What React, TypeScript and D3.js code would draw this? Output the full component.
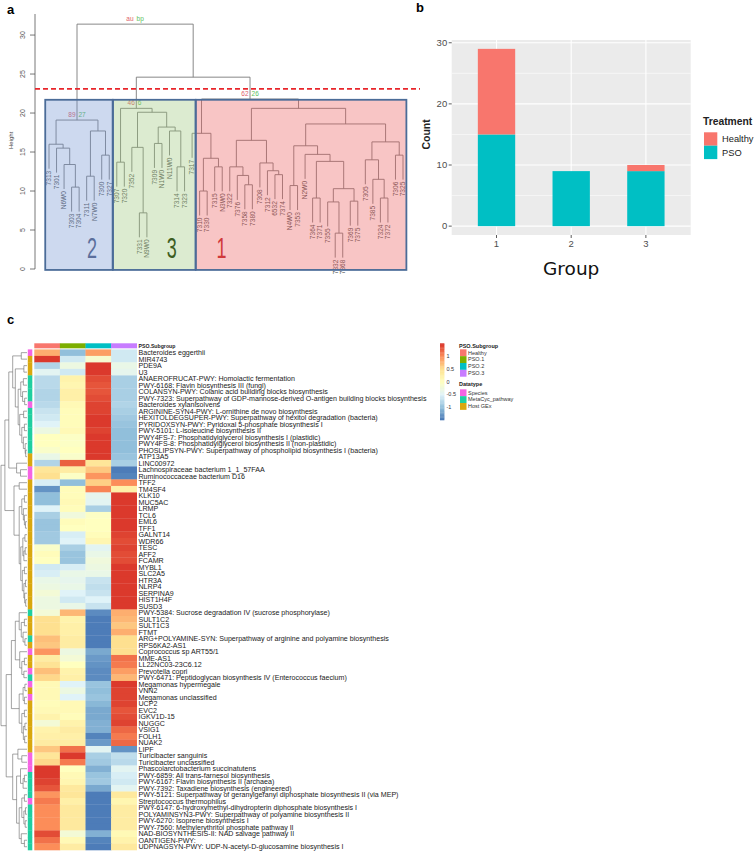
import React from "react";
import * as d3 from "d3";

type Tree<L> = L | [number, Tree<L>, Tree<L>];

// ---------------- panel a: sample clustering (heights) ----------------
const cluster2Tree: Tree<string> = [19.1,
  [16.0, "7313", [15.5, "7301", [13.4, "N6W0", [10.5, "7303", "7304"]]]],
  [17.7, [11.9, "7311", "N7W0"], [14.6, "7300", "7327"]],
];
const cluster3Tree: Tree<string> = [20.6,
  [13.7, "7307", "7320"],
  [20.1,
    [15.6, "7352", [7.2, "7331", "N9W0"]],
    [18.2, [16.1, "7309", "N1W0"], [17.7, "N11W0", [13.1, "7314", "7323"]]],
  ],
];
const cluster1Tree: Tree<string> = [21.8,
  [17.4, "7317", [14.2, [10.0, "7310", "7330"], [13.1, "7315", "N3W0"]]],
  [20.6,
    [16.5,
      [13.1, "7322", [12.0, "7376", [10.8, "7358", "7380"]]],
      [13.6, "7308", [12.6, "7312", [12.1, "6532", "7374"]]],
    ],
    [18.6,
      [15.8,
        [10.7, "N4W0", "7353"],
        [14.7, "N2W0", [13.8, [9.1, "7364", "7371"], [10.3, [8.6, "7355", [4.6, "7332", "7368"]], [8.7, "7369", "7375"]]]],
      ],
      [16.3,
        [14.0, "7305", [11.5, "7385", [9.1, "7324", "7372"]]],
        [14.6, "7306", "7325"],
      ],
    ],
  ],
];
const cluster31Tree: Tree<string> = [24.6, cluster3Tree, cluster1Tree];
const sampleTree: Tree<string> = [31.4, cluster2Tree, cluster31Tree];

const heightTicks = [0, 5, 10, 15, 20, 25, 30];
const cutHeight = 23.1;
const boxGroups = ["2", "3", "1"];
const boxLeafCounts = [9, 11, 28];
const boxLabelLeaf = [5.7, 16.3, 22.9];
const boxFill = ["rgba(112,146,209,0.35)", "rgba(155,198,121,0.35)", "rgba(235,89,89,0.35)"];
const boxText = ["#5b6f9c", "#3e5e22", "#d03a3a"];
const pvLabels: { node: Tree<string>; au: string; bp: string }[] = [
  { node: sampleTree, au: "au", bp: "bp" },
  { node: cluster2Tree, au: "89", bp: "27" },
  { node: cluster3Tree, au: "46", bp: "6" },
  { node: cluster1Tree, au: "62", bp: "26" },
];

// ---------------- panel b: group composition ----------------
const groups = ["1", "2", "3"];
const psoCounts = [15, 9, 9];
const healthyCounts = [14, 0, 1];
const countTicks = [0, 10, 20, 30];
const treatments = ["Healthy", "PSO"];
const treatmentColors = ["#F8766D", "#00BFC4"];

// ---------------- panel c: heatmap ----------------
const subgroups = ["Healthy", "PSO.1", "PSO.2", "PSO.3"];
const subgroupColors = ["#F8766D", "#7CAE00", "#00BFC4", "#C77CFF"];
const datatypes = ["Species", "MetaCyc_pathway", "Host GEx"];
const datatypeColors = ["#F564E3", "#1FCFA0", "#D9A80E"];
const datatypeCodes = "SGGGMMMMSMMMMMMMGGSS" + "GGGGGGGGGGGGGGGGGGGG" + "MGGGMGSGGSMSGSGGGGGG" + "GGSSSMMMMSMMMMMMM";

const rowLabels = [
  "Bacteroides eggerthii", "MIR4743", "PDE9A", "U3",
  "ANAEROFRUCAT-PWY: Homolactic fermentation",
  "PWY-6168: Flavin biosynthesis III (fungi)",
  "COLANSYN-PWY: Colanic acid building blocks biosynthesis",
  "PWY-7323: Superpathway of GDP-mannose-derived O-antigen building blocks biosynthesis",
  "Bacteroides xylanisolvens",
  "ARGININE-SYN4-PWY: L-ornithine de novo  biosynthesis",
  "HEXITOLDEGSUPER-PWY: Superpathway of hexitol degradation (bacteria)",
  "PYRIDOXSYN-PWY: Pyridoxal 5-phosphate biosynthesis I",
  "PWY-5101: L-isoleucine biosynthesis II",
  "PWY4FS-7: Phosphatidylglycerol biosynthesis I (plastidic)",
  "PWY4FS-8: Phosphatidylglycerol biosynthesis II (non-plastidic)",
  "PHOSLIPSYN-PWY: Superpathway of phospholipid biosynthesis I (bacteria)",
  "ATP13A5", "LINC00972",
  "Lachnospiraceae bacterium 1_1_57FAA",
  "Ruminococcaceae bacterium D16",
  "TFF2", "TM4SF4", "KLK10", "MUC5AC", "LRMP", "TCL6", "EML6", "TFF1", "GALNT14", "WDR66",
  "TESC", "AFF2", "FCAMR", "MYBL1", "SLC2A5", "HTR3A", "NLRP4", "SERPINA9", "HIST1H4F", "SUSD3",
  "PWY-5384: Sucrose degradation IV (sucrose phosphorylase)",
  "SULT1C2", "SULT1C3", "FTMT",
  "ARG+POLYAMINE-SYN: Superpathway of arginine and polyamine biosynthesis",
  "RPS6KA2-AS1", "Coprococcus sp ART55/1", "MME-AS1", "LL22NC03-23C6.12", "Prevotella copri",
  "PWY-6471: Peptidoglycan biosynthesis IV (Enterococcus faecium)",
  "Megamonas hypermegale", "VNN2", "Megamonas unclassified",
  "UCP2", "EVC2", "IGKV1D-15", "NUGGC", "VSIG1", "FOLH1", "NUAK2", "LIPF",
  "Turicibacter sanguinis", "Turicibacter unclassified",
  "Phascolarctobacterium succinatutens",
  "PWY-6859: All trans-farnesol biosynthesis",
  "PWY-6167: Flavin biosynthesis II (archaea)",
  "PWY-7392: Taxadiene biosynthesis (engineered)",
  "PWY-5121: Superpathway of geranylgeranyl diphosphate biosynthesis II (via MEP)",
  "Streptococcus thermophilus",
  "PWY-6147: 6-hydroxymethyl-dihydropterin diphosphate biosynthesis I",
  "POLYAMINSYN3-PWY: Superpathway of polyamine biosynthesis II",
  "PWY-6270: Isoprene biosynthesis I",
  "PWY-7560: Methylerythritol phosphate pathway II",
  "NAD-BIOSYNTHESIS-II: NAD salvage pathway II",
  "OANTIGEN-PWY:",
  "UDPNAGSYN-PWY: UDP-N-acetyl-D-glucosamine biosynthesis I",
];

const zHealthy = [
  0.8, 1.45, -0.8, -0.45, -0.75, -0.75, -0.8, -0.8, -0.75, -0.65, -0.6, -0.5, -0.3, 0.0, 0.0, -0.1, -0.35, -0.8, 0.4, 0.5,
  -0.55, -1.3, -1.0, -1.0, -0.5, -0.85, -0.95, -0.95, -0.9, -0.9, -0.1, 0.05, 0.0, -0.6, -0.55, -0.35, -0.3, -0.2, -0.3, -0.3,
  -0.2, 0.5, 0.5, 0.5, 0.7, 0.65, 0.95, 0.3, 0.45, 0.7, 0.55, 0.1, 0.1, 0.1, 0.05, 0.1, 0.2, -0.2, 0.2, 0.25,
  0.3, 0.65, 0.4, 0.55, 1.45, 1.45, 1.4, 1.3, 0.95, 1.1, 1.0, 1.0, 1.0, 1.0, 1.35, 1.15, 1.0,
];
const zPSO1 = [
  -1.0, -0.6, -0.3, -0.6, 0.2, 0.15, 0.25, 0.25, 0.1, 0.05, 0.05, 0.05, 0.1, -0.05, -0.05, 0.0, -0.1, 1.25, 0.3, -0.05,
  -1.0, 0.05, 0.05, 0.1, 0.05, -0.25, 0.05, 0.0, -0.55, -0.5, -0.85, -0.95, -0.95, -0.55, -0.35, -0.4, -0.35, -0.5, -0.6, -0.35,
  0.75, 0.2, 0.25, 0.25, 0.3, 0.3, -0.3, -0.2, 0.0, 0.2, 0.25, -0.5, -0.3, -0.5, 0.1, 0.1, 0.05, 0.2, 0.3, 0.25,
  0.3, 1.15, 1.45, 1.1, 0.0, 0.1, 0.15, 0.35, 0.4, 0.25, 0.35, 0.35, 0.35, 0.35, -0.2, 0.1, 0.3,
];
const zPSO2 = [
  0.9, -0.15, 1.45, 1.45, 1.35, 1.3, 1.3, 1.35, 1.4, 1.4, 1.45, 1.45, 1.4, 1.45, 1.45, 1.45, 1.45, 0.4, 0.65, 0.95,
  0.6, 1.05, -0.4, -0.45, -0.85, -0.05, 0.0, 0.0, 0.05, 0.15, -0.45, -0.35, -0.25, -0.3, -0.35, -0.65, -0.7, -0.65, -0.5, -0.65,
  -1.35, -1.45, -1.45, -1.45, -1.45, -1.45, -1.15, -1.25, -1.3, -1.35, -1.35, -0.95, -1.0, -0.95, -1.05, -1.15, -1.15, -1.1, -1.1, -1.4,
  -1.25, -0.45, -0.85, -0.9, -1.1, -0.95, -0.9, -1.15, -1.45, -1.45, -1.45, -1.45, -1.45, -1.45, -1.1, -1.4, -1.45,
];
const zPSO3 = [
  -0.6, -0.6, -0.35, -0.4, -0.85, -0.85, -0.85, -0.85, -0.8, -0.85, -0.9, -0.95, -1.0, -1.0, -1.0, -1.0, -0.95, -0.85, -1.45, -1.4,
  1.0, 0.25, 1.45, 1.45, 1.45, 1.45, 1.45, 1.45, 1.4, 1.35, 1.4, 1.35, 1.35, 1.45, 1.45, 1.45, 1.45, 1.45, 1.45, 1.45,
  0.8, 0.75, 0.65, 0.8, 0.5, 0.5, 0.5, 1.15, 1.1, 0.9, 0.75, 1.45, 1.4, 1.4, 1.4, 1.3, 1.35, 1.4, 1.2, 1.1,
  1.2, -1.3, -0.7, -0.75, -0.45, -0.55, -0.6, -0.45, 0.35, 0.15, 0.3, 0.3, 0.3, 0.3, 0.1, 0.2, 0.35,
];
const heatColumns = [zHealthy, zPSO1, zPSO2, zPSO3];
const heatPalette = ["#4575B4", "#91BFDB", "#E0F3F8", "#FFFFBF", "#FEE090", "#FC8D59", "#D73027"];
const heatLegendTicks = [1, 0.5, 0, -0.5, -1];

// row clustering (relative heights)
const rowTreeA: Tree<number> = [0.7,
  [0.55, [0.22, 0, 1], [0.45, [0.12, 2, 3], [0.34,
    [0.24, [0.14, 4, 5], [0.17, 6, [0.09, 7, 8]]],
    [0.28, [0.13, 9, 10], [0.2, [0.1, 11, 12], [0.14, 13, [0.07, 14, [0.05, 15, 16]]]]],
  ]]],
  [0.4, 17, [0.25, 18, 19]],
];
const rowTreeB: Tree<number> = [0.5,
  [0.3, 20, 21],
  [0.3,
    [0.2, [0.1, 22, 23], [0.14, 24, [0.1, 25, [0.06, 26, 27]]]],
    [0.24, [0.16, [0.08, 28, 29], [0.12, [0.07, 30, 31], 32]], [0.18, [0.1, 33, 34], [0.12, [0.06, 35, 36], [0.09, 37, [0.05, 38, 39]]]]],
  ],
];
const rowTreeC: Tree<number> = [0.6,
  [0.45, [0.3, 40, [0.22, [0.1, 41, 42], [0.15, 43, [0.08, 44, 45]]]], [0.28, 46, [0.2, [0.1, 47, 48], [0.12, 49, 50]]]],
  [0.3, [0.15, [0.08, 51, 52], [0.1, 53, 54]], [0.2, [0.1, 55, 56], [0.14, [0.08, 57, 58], [0.09, 59, 60]]]],
];
const rowTreeD: Tree<number> = [0.55,
  [0.35, 61, [0.2, 62, 63]],
  [0.4, [0.25, 64, [0.15, [0.1, 65, 66], 67]], [0.3, [0.2, [0.1, 68, 69], [0.12, [0.06, 70, 71], [0.07, 72, 73]]], [0.22, 74, [0.1, 75, 76]]]],
];
const rowTree: Tree<number> = [1.0, [0.85, rowTreeA, rowTreeB], [0.8, rowTreeC, rowTreeD]];

// ---------------- helpers ----------------
interface Placed { pos: number; h: number; leaf: boolean }
function layoutTree<L>(tree: Tree<L>) {
  const leaves: { label: L; pos: number; parentH: number }[] = [];
  const joins: { h: number; a: Placed; b: Placed }[] = [];
  const nodes = new Map<unknown, Placed>();
  let i = 0;
  const walk = (n: Tree<L>, parentH: number): Placed => {
    if (!Array.isArray(n)) {
      const pos = i++;
      leaves.push({ label: n as L, pos, parentH });
      return { pos, h: 0, leaf: true };
    }
    const [h, l, r] = n as [number, Tree<L>, Tree<L>];
    const a = walk(l, h);
    const b = walk(r, h);
    const node = { pos: (a.pos + b.pos) / 2, h, leaf: false };
    joins.push({ h, a, b });
    nodes.set(n, node);
    return node;
  };
  walk(tree, NaN);
  return { leaves, joins, nodes };
}

const FONT = "'Liberation Sans', Arial, Helvetica, sans-serif";

function PanelA() {
  const { leaves, joins, nodes } = layoutTree(sampleTree);
  const maxH = d3.max(joins, (j) => j.h)!;
  const hang = 0.1 * maxH;
  const x = d3.scaleLinear().domain([0, leaves.length - 1]).range([49, 403]);
  const y = d3.scaleLinear().domain([0, 32.7]).range([269, 14]);
  const bottom = (c: Placed, h: number) => (c.leaf ? h - hang : c.h);
  const starts = d3.cumsum([0, ...boxLeafCounts]);
  const grey = "#7a7a7a";
  return (
    <g>
      <text x={7} y={14} fontSize={13} fontWeight="bold">a</text>
      {/* axis */}
      <line x1={35} x2={35} y1={y(0)} y2={y(32.7)} stroke="#555" strokeWidth={0.8} />
      {heightTicks.map((t) => (
        <g key={t}>
          <line x1={30} x2={35} y1={y(t)} y2={y(t)} stroke="#555" strokeWidth={0.8} />
          <text transform={`translate(25,${y(t)}) rotate(-90)`} textAnchor="middle" fontSize={7} fill="#555">{t}</text>
        </g>
      ))}
      <text transform={`translate(13,${y(16.5)}) rotate(-90)`} textAnchor="middle" fontSize={6} fill="#444">Height</text>

      {/* tree */}
      {joins.map((j, i) => (
        <path key={i} fill="none" stroke={grey} strokeWidth={0.9}
          d={`M${x(j.a.pos)},${y(bottom(j.a, j.h))}V${y(j.h)}H${x(j.b.pos)}V${y(bottom(j.b, j.h))}`} />
      ))}
      {leaves.map((l) => (
        <text key={l.label} transform={`translate(${x(l.pos)},${y(l.parentH - hang) + 2}) rotate(-90)`}
          textAnchor="end" dy="0.35em" fontSize={6.6} fill="#555">{l.label}</text>
      ))}
      {pvLabels.map((p) => {
        const n = nodes.get(p.node)!;
        return (
          <g key={p.au + p.bp} fontSize={6.5}>
            <text x={x(n.pos) - 1.5} y={y(n.h) - 3} textAnchor="end" fill="#e0606a">{p.au}</text>
            <text x={x(n.pos) + 1.5} y={y(n.h) - 3} fill="#5cbf5c">{p.bp}</text>
          </g>
        );
      })}

      {/* cluster boxes */}
      {boxGroups.map((g, k) => {
        const x0 = x(starts[k] - 0.5);
        const x1 = x(starts[k + 1] - 1 + 0.45);
        return (
          <g key={g}>
            <rect x={x0} y={y(21.7)} width={x1 - x0} height={y(-0.12) - y(21.7)}
              fill={boxFill[k]} stroke="#4b6c98" strokeWidth={1.8} />
            <text transform={`translate(${x(boxLabelLeaf[k])},${y(1.4)}) scale(0.6,1)`} textAnchor="middle"
              fontSize={30} fill={boxText[k]}>{g}</text>
          </g>
        );
      })}
      <line x1={35} x2={420} y1={y(cutHeight)} y2={y(cutHeight)} stroke="#e8262b" strokeWidth={1.6} strokeDasharray="5,3" />
    </g>
  );
}

function PanelB() {
  const x = d3.scaleLinear().domain([0.4, 3.6]).range([451.7, 690.7]);
  const y = d3.scaleLinear().domain([-1.45, 30.45]).range([235, 40]);
  const minor = [5, 15, 25];
  const barW = 0.5;
  const series = [psoCounts, healthyCounts];
  const colorOf = [treatmentColors[1], treatmentColors[0]];
  return (
    <g>
      <text x={416} y={12} fontSize={13} fontWeight="bold">b</text>
      <rect x={x(0.4)} y={y(30.45)} width={x(3.6) - x(0.4)} height={y(-1.45) - y(30.45)} fill="#EBEBEB" />
      {minor.map((t) => (
        <line key={"m" + t} x1={x(0.4)} x2={x(3.6)} y1={y(t)} y2={y(t)} stroke="#fff" strokeWidth={0.55} />
      ))}
      {countTicks.map((t) => (
        <line key={"g" + t} x1={x(0.4)} x2={x(3.6)} y1={y(t)} y2={y(t)} stroke="#fff" strokeWidth={1.1} />
      ))}
      {groups.map((g, i) => (
        <line key={"v" + g} x1={x(i + 1)} x2={x(i + 1)} y1={y(30.45)} y2={y(-1.45)} stroke="#fff" strokeWidth={1.1} />
      ))}
      {groups.map((g, i) => {
        let base = 0;
        return series.map((s, k) => {
          const v = s[i];
          const r = (
            <rect key={g + k} x={x(i + 1 - barW / 2)} width={x(i + 1 + barW / 2) - x(i + 1 - barW / 2)}
              y={y(base + v)} height={y(base) - y(base + v)} fill={colorOf[k]} />
          );
          base += v;
          return r;
        });
      })}
      {countTicks.map((t) => (
        <g key={"t" + t}>
          <line x1={x(0.4) - 3} x2={x(0.4)} y1={y(t)} y2={y(t)} stroke="#333" strokeWidth={0.8} />
          <text x={x(0.4) - 4.5} y={y(t)} dy="0.35em" textAnchor="end" fontSize={9.5} fill="#4D4D4D">{t}</text>
        </g>
      ))}
      {groups.map((g, i) => (
        <g key={"x" + g}>
          <line x1={x(i + 1)} x2={x(i + 1)} y1={y(-1.45)} y2={y(-1.45) + 3} stroke="#333" strokeWidth={0.8} />
          <text x={x(i + 1)} y={y(-1.45) + 11.5} textAnchor="middle" fontSize={9.5} fill="#4D4D4D">{g}</text>
        </g>
      ))}
      <text x={x(2)} y={275} textAnchor="middle" fontSize={18.5} fontFamily="'DejaVu Sans', sans-serif" fill="#111">Group</text>
      <text transform={`translate(430,${y(15)}) rotate(-90)`} textAnchor="middle" fontSize={10.5} fontWeight="bold" fill="#222">Count</text>
      <text x={703} y={125} fontSize={10.3} fontWeight="bold" fill="#222">Treatment</text>
      {treatments.map((t, k) => (
        <g key={t}>
          <rect x={704} y={132.3 + k * 13.4} width={13.3} height={13.4} fill={treatmentColors[k]} />
          <text x={722} y={139 + k * 13.4} dy="0.35em" fontSize={9.3} fill="#222">{t}</text>
        </g>
      ))}
    </g>
  );
}

function PanelC() {
  const nRows = rowLabels.length;
  const rowBand = d3.scaleBand<number>().domain(d3.range(nRows)).range([349.4, 850]);
  const bh = rowBand.bandwidth();
  const rowC = d3.scaleLinear().domain([0, nRows - 1]).range([rowBand(0)! + bh / 2, rowBand(nRows - 1)! + bh / 2]);
  const col = d3.scaleBand<string>().domain(subgroups).range([34.3, 136.7]);
  const color = d3.scaleLinear<string>()
    .domain(heatPalette.map((_, i) => -1.5 + i * 0.5))
    .range(heatPalette)
    .clamp(true);
  const dx = d3.scaleLinear().domain([0, 1]).range([27, 1]);
  const { joins } = layoutTree(rowTree);
  const typeIndex: Record<string, number> = { S: 0, M: 1, G: 2 };
  const legY = d3.scaleLinear().domain([-1.5, 1.5]).range([420, 343.3]);
  const legSteps = d3.range(-1.5, 1.5, 0.05);
  return (
    <g>
      <text x={7} y={324} fontSize={13} fontWeight="bold">c</text>
      {joins.map((j, i) => (
        <path key={i} fill="none" stroke="#666" strokeWidth={0.6}
          d={`M${dx(j.a.h)},${rowC(j.a.pos)}H${dx(j.h)}V${rowC(j.b.pos)}H${dx(j.b.h)}`} />
      ))}
      {/* column annotation */}
      {subgroups.map((s, k) => (
        <rect key={s} x={col(s)} y={343.3} width={col.bandwidth() + 0.3} height={5} fill={subgroupColors[k]} />
      ))}
      <text x={138.5} y={347.8} fontSize={5.2} fontWeight="bold" fill="#222">PSO.Subgroup</text>
      {/* row annotation + cells */}
      {rowLabels.map((lab, i) => (
        <g key={i}>
          <rect x={27.8} y={rowBand(i)} width={4.5} height={bh + 0.3}
            fill={datatypeColors[typeIndex[datatypeCodes[i]]]} />
          {subgroups.map((s, k) => (
            <rect key={s} x={col(s)} y={rowBand(i)} width={col.bandwidth() + 0.3} height={bh + 0.3}
              fill={color(heatColumns[k][i])} />
          ))}
          <text x={138.5} y={rowC(i)} dy="0.36em" fontSize={7.1} fill="#1a1a1a">{lab}</text>
        </g>
      ))}
      {/* legends */}
      {legSteps.map((v) => (
        <rect key={v} x={440} y={legY(v + 0.05)} width={4.4} height={legY(v) - legY(v + 0.05) + 0.3} fill={color(v + 0.025)} />
      ))}
      {heatLegendTicks.map((t) => (
        <text key={t} x={446.5} y={legY(t)} dy="0.35em" fontSize={5.5} fill="#333">{t}</text>
      ))}
      <text x={459} y={347.6} fontSize={5.5} fontWeight="bold" fill="#222">PSO.Subgroup</text>
      {subgroups.map((s, k) => (
        <g key={s}>
          <rect x={460} y={349.3 + k * 6.85} width={6.5} height={6.85} fill={subgroupColors[k]} />
          <text x={468} y={349.3 + k * 6.85 + 3.4} dy="0.35em" fontSize={5.5} fill="#333">{s}</text>
        </g>
      ))}
      <text x={459} y={386.3} fontSize={5.5} fontWeight="bold" fill="#222">Datatype</text>
      {datatypes.map((s, k) => (
        <g key={s}>
          <rect x={460} y={389.3 + k * 6.85} width={6.5} height={6.85} fill={datatypeColors[k]} />
          <text x={468} y={389.3 + k * 6.85 + 3.4} dy="0.35em" fontSize={5.5} fill="#333">{s}</text>
        </g>
      ))}
    </g>
  );
}

export default function App() {
  return (
    <svg width={756} height={856} viewBox="0 0 756 856"
      style={{ position: "absolute", left: 0, top: 0, background: "#fff", fontFamily: FONT }}>
      <rect width={756} height={856} fill="#fff" />
      <PanelA />
      <PanelB />
      <PanelC />
    </svg>
  );
}
